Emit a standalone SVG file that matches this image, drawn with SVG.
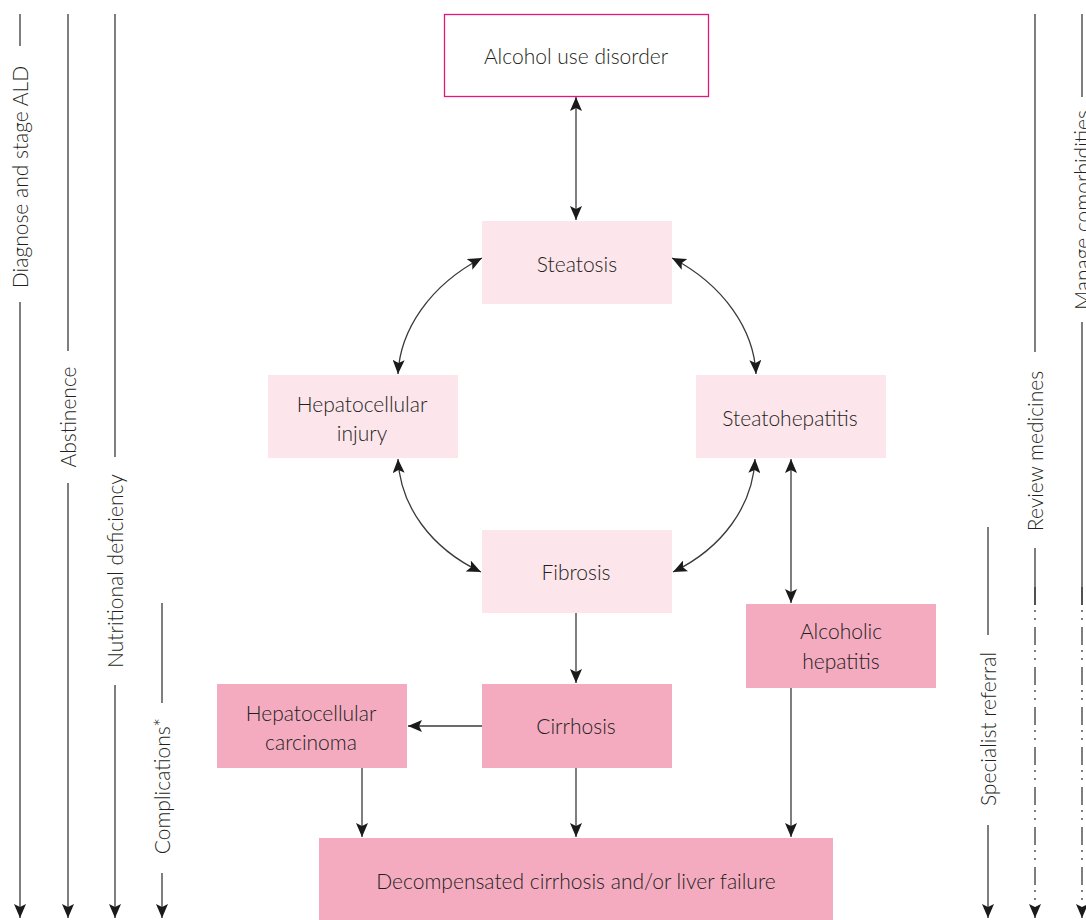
<svg xmlns="http://www.w3.org/2000/svg" width="1086" height="920" viewBox="0 0 1086 920">
<style>
text{font-family:Lato,"Open Sans","Liberation Sans",sans-serif;font-size:21px;font-weight:300;fill:#231f20;text-anchor:middle}
.light{fill:#fde5ec}
.dark{fill:#f4abc0}
.conn{fill:none;stroke:#3a3a3a;stroke-width:1.3}
.side{fill:none;stroke:#3a3a3a;stroke-width:1.3}
.dd{stroke-dasharray:18 5 2 6 2 7}
</style>
<defs>
<marker id="ah" viewBox="0 0 14 12" refX="14" refY="6" markerWidth="14" markerHeight="12" markerUnits="userSpaceOnUse" orient="auto-start-reverse">
<path d="M0,0 L14,6 L0,12 L3,6 z" fill="#1a1a1a"/>
</marker>
</defs>
<rect width="1086" height="920" fill="#fff"/>

<g id="side-lines">
<g id="diagnose">
<line class="side" x1="20" y1="14" x2="20" y2="46"/>
<line class="side" x1="20" y1="302" x2="20" y2="918" marker-end="url(#ah)"/>
<text transform="translate(20,177) rotate(-90)" y="8">Diagnose and stage ALD</text>
</g>
<g id="abstinence">
<line class="side" x1="68" y1="14" x2="68" y2="351"/>
<line class="side" x1="68" y1="483" x2="68" y2="918" marker-end="url(#ah)"/>
<text transform="translate(68,417) rotate(-90)" y="8">Abstinence</text>
</g>
<g id="nutrition">
<line class="side" x1="115" y1="14" x2="115" y2="457"/>
<line class="side" x1="115" y1="685" x2="115" y2="918" marker-end="url(#ah)"/>
<text transform="translate(115,571) rotate(-90)" y="8">Nutritional deficiency</text>
</g>
<g id="complications">
<line class="side" x1="162" y1="603" x2="162" y2="703"/>
<line class="side" x1="162" y1="873" x2="162" y2="918" marker-end="url(#ah)"/>
<text transform="translate(162,786) rotate(-90)" y="8">Complications*</text>
</g>
<g id="specialist">
<line class="side" x1="988" y1="527" x2="988" y2="635"/>
<line class="side" x1="988" y1="825" x2="988" y2="918" marker-end="url(#ah)"/>
<text transform="translate(988,729) rotate(-90)" y="8">Specialist referral</text>
</g>
<g id="review">
<line class="side" x1="1035" y1="14" x2="1035" y2="352"/>
<line class="side" x1="1035" y1="548" x2="1035" y2="605"/>
<line class="side dd" x1="1035" y1="587" x2="1035" y2="918" marker-end="url(#ah)"/>
<text transform="translate(1035,451) rotate(-90)" y="8">Review medicines</text>
</g>
<g id="comorbidities">
<line class="side" x1="1082" y1="14" x2="1082" y2="97"/>
<line class="side" x1="1082" y1="322" x2="1082" y2="605"/>
<line class="side dd" x1="1082" y1="587" x2="1082" y2="918" marker-end="url(#ah)"/>
<text transform="translate(1082,210) rotate(-90)" y="8">Manage comorbidities</text>
</g>
</g>

<g id="connectors">
<path class="conn" d="M576,97 L576,220" marker-start="url(#ah)" marker-end="url(#ah)"/>
<path class="conn" d="M482,258 C430,285 400,330 398,374" marker-start="url(#ah)" marker-end="url(#ah)"/>
<path class="conn" d="M672,258 C724,285 754,330 756,374" marker-start="url(#ah)" marker-end="url(#ah)"/>
<path class="conn" d="M398,459 C400,505 430,548 481,572" marker-start="url(#ah)" marker-end="url(#ah)"/>
<path class="conn" d="M755,459 C753,505 723,548 673,572" marker-start="url(#ah)" marker-end="url(#ah)"/>
<path class="conn" d="M791,459 L791,603" marker-start="url(#ah)" marker-end="url(#ah)"/>
<path class="conn" d="M576,613 L576,683" marker-end="url(#ah)"/>
<path class="conn" d="M482,726 L408,726" marker-end="url(#ah)"/>
<path class="conn" d="M362,768 L362,837" marker-end="url(#ah)"/>
<path class="conn" d="M576,768 L576,837" marker-end="url(#ah)"/>
<path class="conn" d="M791,688 L791,837" marker-end="url(#ah)"/>
</g>

<g id="aud">
<rect x="444.5" y="14.5" width="264" height="82" fill="#fff" stroke="#e5177c" stroke-width="1.3"/>
<text x="576" y="64">Alcohol use disorder</text>
</g>
<g id="steatosis">
<rect class="light" x="482" y="221" width="190" height="83"/>
<text x="577" y="272">Steatosis</text>
</g>
<g id="hepatocellular-injury">
<rect class="light" x="268" y="375" width="190" height="83"/>
<text x="362" y="412">Hepatocellular</text>
<text x="362" y="441">injury</text>
</g>
<g id="steatohepatitis">
<rect class="light" x="696" y="375" width="190" height="83"/>
<text x="790" y="426">Steatohepatitis</text>
</g>
<g id="fibrosis">
<rect class="light" x="482" y="530" width="190" height="83"/>
<text x="576" y="580">Fibrosis</text>
</g>
<g id="alcoholic-hepatitis">
<rect class="dark" x="746" y="604" width="190" height="84"/>
<text x="841" y="639">Alcoholic</text>
<text x="841" y="669">hepatitis</text>
</g>
<g id="hcc">
<rect class="dark" x="217" y="684" width="190" height="84"/>
<text x="311" y="721">Hepatocellular</text>
<text x="311" y="750">carcinoma</text>
</g>
<g id="cirrhosis">
<rect class="dark" x="482" y="684" width="190" height="84"/>
<text x="576" y="734">Cirrhosis</text>
</g>
<g id="decompensated">
<rect class="dark" x="319" y="838" width="514" height="82"/>
<text x="576" y="889">Decompensated cirrhosis and/or liver failure</text>
</g>
</svg>
